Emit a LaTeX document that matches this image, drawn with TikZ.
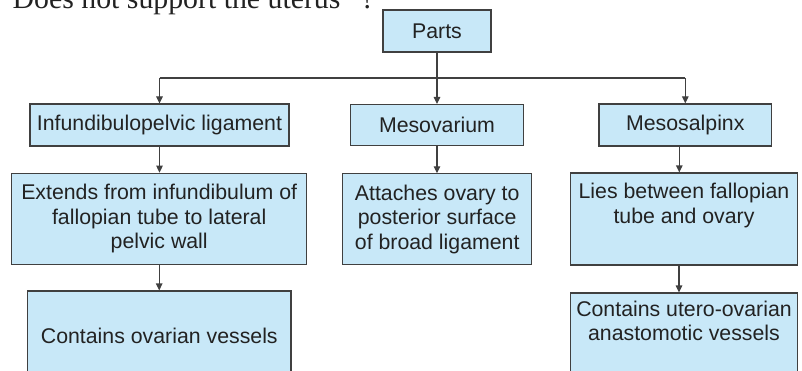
\documentclass[tikz,border=0pt]{standalone}
\usepackage{fontspec}
\setmainfont{Liberation Sans}
\newfontfamily\serifhead{Liberation Serif}
\usetikzlibrary{arrows.meta}
\definecolor{boxfill}{HTML}{C8E8F8}
\definecolor{boxline}{HTML}{404040}
\definecolor{txt}{HTML}{222222}
\begin{document}
\begin{tikzpicture}[x=1pt,y=1pt,
  box/.style={draw=boxline,fill=boxfill,line width=1.1pt,inner sep=0pt,
    align=center,text=txt,font=\fontsize{21.3}{24.5}\selectfont},
  conn/.style={draw=boxline,line width=1.1pt},
  arr/.style={conn,-{Triangle[length=7pt,width=6.5pt]}}]
\useasboundingbox (0,0) rectangle (802,370);
\node[anchor=base west,font=\serifhead\fontsize{29.8}{31}\selectfont,text=txt,inner sep=0pt] (head) at (12.5,361) {Does not support the uterus\,\textsuperscript{*}\,?};
\node[box,minimum width=108,minimum height=42] (parts) at (437,339) {Parts};
\node[box,minimum width=259,minimum height=42] (infund) at (159.5,245) {Infundibulopelvic ligament};
\node[box,minimum width=172.6,minimum height=41] (mesov) at (437,245) {Mesovarium};
\node[box,minimum width=172.7,minimum height=42] (mesos) at (685.3,245) {Mesosalpinx};
\node[box,minimum width=295,minimum height=91] (extends) at (159.2,151.3) {Extends from infundibulum of\\fallopian tube to lateral\\pelvic wall};
\node[box,minimum width=189,minimum height=91] (attaches) at (437.2,150.7) {Attaches ovary to\\posterior surface\\of broad ligament};
\node[box,minimum width=226.6,minimum height=92] (lies) at (684,151) {Lies between fallopian\\tube and ovary\\\strut};
\node[box,minimum width=263.3,minimum height=89] (contains) at (159.3,34.5) {Contains ovarian vessels};
\node[box,minimum width=226.6,minimum height=87] (utero) at (684,33.5) {Contains utero-ovarian\\anastomotic vessels\\\strut};
\coordinate (bus) at (437,292);
\draw[arr] (parts.south) -- (mesov.north);
\draw[conn] (infund.north |- bus) -- (mesos.north |- bus);
\draw[arr] (infund.north |- bus) -- (infund.north);
\draw[arr] (mesos.north |- bus) -- (mesos.north);
\draw[arr] (infund.south) -- (infund.south |- extends.north);
\draw[arr] (mesov.south) -- (mesov.south |- attaches.north);
\draw[arr] ([xshift=-6pt]mesos.south) -- ([xshift=-6pt]mesos.south |- lies.north);
\draw[arr] ([xshift=-5pt]lies.south) -- ([xshift=-5pt]lies.south |- utero.north);
\draw[arr] (extends.south) -- (extends.south |- contains.north);
\end{tikzpicture}
\end{document}
